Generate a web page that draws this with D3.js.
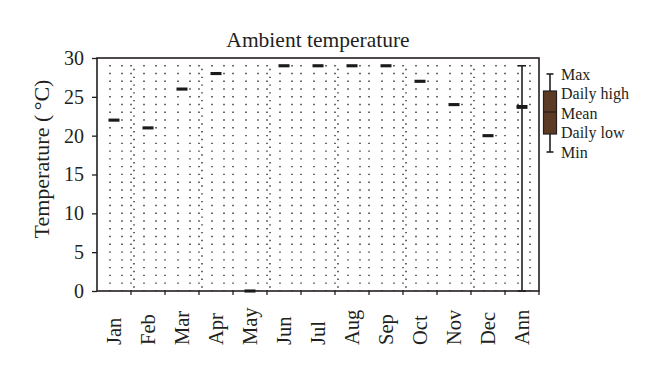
<!DOCTYPE html>
<html>
<head>
<meta charset="utf-8">
<script src="https://cdn.jsdelivr.net/npm/d3@7"></script>
<style>
  body { margin: 0; background: #fff; }
  svg text { font-family: "Liberation Serif", "DejaVu Serif", serif; fill: #231f20; }
</style>
</head>
<body>
<div id="chart"></div>
<script>
// categories and values
const months = ['Jan', 'Feb', 'Mar', 'Apr', 'May', 'Jun', 'Jul', 'Aug', 'Sep', 'Oct', 'Nov', 'Dec', 'Ann'];
const tMin  = [22, 21, 26, 28, 0, 29, 29, 29, 29, 27, 24, 20, 0];
const tLow  = [21.8, 20.8, 25.8, 27.8, -0.2, 28.8, 28.8, 28.8, 28.8, 26.8, 23.8, 19.8, 23.45];
const tMean = [22, 21, 26, 28, 0, 29, 29, 29, 29, 27, 24, 20, 23.7];
const tHigh = [22.2, 21.2, 26.2, 28.2, 0.2, 29.2, 29.2, 29.2, 29.2, 27.2, 24.2, 20.2, 23.95];
const tMax  = [22, 21, 26, 28, 0, 29, 29, 29, 29, 27, 24, 20, 29];
const yTicks = [0, 5, 10, 15, 20, 25, 30];
const legendLabels = ['Max', 'Daily high', 'Mean', 'Daily low', 'Min'];

const W = 660, H = 375;
const margin = {top: 58, right: 121, bottom: 84, left: 97};
const ink = '#231f20';

const svg = d3.select('#chart').append('svg')
  .attr('width', W)
  .attr('height', H);

const xScale = d3.scaleBand()
  .domain(months)
  .range([margin.left, W - margin.right]);

const yScale = d3.scaleLinear()
  .domain([0, 30])
  .range([H - margin.bottom, margin.top]);

const bw = xScale.bandwidth();
const yTop = yScale(30), yBot = yScale(0);

// dotted background grid
const grid = svg.append('g').attr('class', 'grid');
const dotStep = yScale(0) - yScale(1);
months.forEach(function(m, i) {
  const x0 = xScale(m);
  const cols = [{dx: 13, off: 0}, {dx: 25, off: 0}];
  if (i % 2 === 0 && i < months.length - 1) cols.push({dx: bw + 3, off: 0.5});
  if (i < months.length - 1) cols.push({dx: bw, off: 0});
  cols.forEach(function(c) {
    grid.append('line')
      .attr('x1', x0 + c.dx).attr('x2', x0 + c.dx)
      .attr('y1', yScale(29.1 - c.off)).attr('y2', yBot)
      .attr('stroke', '#2a2a2a')
      .attr('stroke-width', 1.4)
      .attr('stroke-dasharray', '1.4,' + (dotStep - 1.4));
  });
});

// y axis
const yAxis = svg.append('g')
  .attr('transform', 'translate(' + margin.left + ',0)')
  .call(d3.axisLeft(yScale).tickValues(yTicks).tickSize(5).tickPadding(8));
yAxis.select('.domain').remove();
yAxis.selectAll('line').attr('stroke', ink).attr('stroke-width', 1.3);
yAxis.selectAll('text').attr('font-size', 20).attr('font-family', '"Liberation Serif", serif').attr('fill', ink);

// x axis: labels, ticks at band edges
const xAxis = svg.append('g')
  .attr('transform', 'translate(0,' + yBot + ')')
  .call(d3.axisBottom(xScale).tickSize(0).tickPadding(0));
xAxis.select('.domain').remove();
xAxis.selectAll('text')
  .attr('font-size', 20.5)
  .attr('font-family', '"Liberation Serif", serif')
  .attr('fill', ink)
  .attr('text-anchor', 'start')
  .attr('dy', '0.35em')
  .attr('transform', 'translate(0,54) rotate(-90)');
svg.append('g').selectAll('line')
  .data(months)
  .join('line')
  .attr('x1', d => xScale(d) + bw).attr('x2', d => xScale(d) + bw)
  .attr('y1', yBot).attr('y2', yBot + 4)
  .attr('stroke', ink).attr('stroke-width', 1.3);

// frame
svg.append('rect')
  .attr('x', margin.left).attr('y', yTop)
  .attr('width', W - margin.left - margin.right)
  .attr('height', yBot - yTop)
  .attr('fill', 'none')
  .attr('stroke', ink)
  .attr('stroke-width', 1.6);

// boxes
const boxes = svg.append('g').attr('class', 'boxes');
months.forEach(function(m, i) {
  const cx = xScale(m) + bw / 2;
  if (tMax[i] !== tMin[i]) {
    boxes.append('line')
      .attr('x1', cx).attr('x2', cx)
      .attr('y1', yScale(tMax[i])).attr('y2', yScale(tMin[i]))
      .attr('stroke', ink).attr('stroke-width', 1.6);
    [tMax[i], tMin[i]].forEach(function(v) {
      boxes.append('line')
        .attr('x1', cx - 4).attr('x2', cx + 4)
        .attr('y1', yScale(v)).attr('y2', yScale(v))
        .attr('stroke', ink).attr('stroke-width', 1.6);
    });
  }
  boxes.append('rect')
    .attr('x', cx - 5.5).attr('width', 11)
    .attr('y', yScale(tHigh[i]))
    .attr('height', yScale(tLow[i]) - yScale(tHigh[i]))
    .attr('fill', '#1a1a1a');
});

// title
svg.append('text')
  .attr('x', (margin.left + W - margin.right) / 2)
  .attr('y', 47)
  .attr('text-anchor', 'middle')
  .attr('font-size', 21.5)
  .text('Ambient temperature');

// y label
svg.append('text')
  .attr('transform', 'translate(49,' + 159 + ') rotate(-90)')
  .attr('text-anchor', 'middle')
  .attr('font-size', 22)
  .text('Temperature (\u2009\u00b0C)');

// legend
const legendY = d3.scalePoint().domain(legendLabels).range([74, 152]);
const lx = 550;
const legend = svg.append('g').attr('class', 'legend');
legend.append('line')
  .attr('x1', lx).attr('x2', lx)
  .attr('y1', 74).attr('y2', 152)
  .attr('stroke', ink).attr('stroke-width', 1.6);
[74, 152].forEach(function(y) {
  legend.append('line')
    .attr('x1', lx - 3.5).attr('x2', lx + 3.5)
    .attr('y1', y).attr('y2', y)
    .attr('stroke', ink).attr('stroke-width', 1.6);
});
legend.append('rect')
  .attr('x', lx - 6.5).attr('y', 91)
  .attr('width', 13).attr('height', 43)
  .attr('fill', '#5c3b24')
  .attr('stroke', ink).attr('stroke-width', 1.2);
legend.append('line')
  .attr('x1', lx - 6.5).attr('x2', lx + 6.5)
  .attr('y1', 112).attr('y2', 112)
  .attr('stroke', ink).attr('stroke-width', 1.2);
legend.selectAll('text')
  .data(legendLabels)
  .join('text')
  .attr('x', 561)
  .attr('y', d => legendY(d))
  .attr('dy', '0.35em')
  .attr('font-size', 16)
  .text(d => d);
</script>
</body>
</html>
